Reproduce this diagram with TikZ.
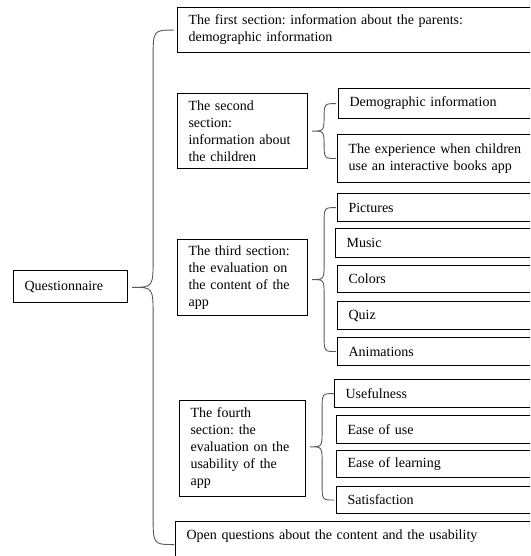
\documentclass[tikz,border=0pt]{standalone}
\usepackage{fontspec}
\setmainfont{Liberation Serif}
\usepackage{tikz}
\usetikzlibrary{calc}
\frenchspacing

\begin{document}
\begin{tikzpicture}[
  x=1pt, y=-1pt,
  box/.style={draw, line width=1.1pt, anchor=north west, align=left,
    inner xsep=11pt, inner ysep=0pt, font=\fontsize{14}{17}\selectfont},
  section/.style={box, text width=#1},
  leaf/.style={box, text width=250pt},
  brace/.style={draw=black!65, line width=0.9pt}
]
\useasboundingbox (0,0) rectangle (530,556);
\clip (0,0) rectangle (530,556);

\node[section=92pt, minimum height=32pt] (quest) at (13,270) {Questionnaire};

% sections
\node[section=400pt, minimum height=45pt] (sec1) at (177,7)
  {The first section: information about the parents:\\ demographic information};
\node[section=108pt, minimum height=75pt] (sec2) at (177,93)
  {The second\\ section:\\ information about\\ the children};
\node[section=108pt, minimum height=76pt] (sec3) at (177,239)
  {The third section:\\ the evaluation on\\ the content of the\\ app};
\node[section=104pt, minimum height=96pt] (sec4) at (179,400)
  {The fourth\\ section: the\\ evaluation on the\\ usability of the\\ app};
\node[section=400pt, text height=10pt, text depth=20pt, inner ysep=8pt] (open) at (175,521)
  {Open questions about the content and the usability};

% second section
\node[leaf, minimum height=30pt] (demo) at (338,88) {Demographic information};
\node[leaf, minimum height=48pt] (exper) at (337,134)
  {The experience when children\\ use an interactive books app};

% third section
\node[leaf, minimum height=28pt] (pict) at (337,193) {Pictures};
\node[leaf, minimum height=29pt] (music) at (335,228) {Music};
\node[leaf, minimum height=27pt] (colors) at (337,265) {Colors};
\node[leaf, minimum height=28pt] (quiz) at (337,301) {Quiz};
\node[leaf, minimum height=28pt] (anim) at (337,337) {Animations};

% fourth section
\node[leaf, minimum height=28pt] (useful) at (334,379) {Usefulness};
\node[leaf, minimum height=28pt] (easeuse) at (336,415) {Ease of use};
\node[leaf, minimum height=27pt] (easelearn) at (336,450) {Ease of learning};
\node[leaf, minimum height=27pt] (satisf) at (336,486) {Satisfaction};

% braces: parent / first child / last child / radius
\foreach \from/\up/\dn/\rad in {quest/sec1/open/21, sec2/demo/exper/12,
    sec3/pict/anim/12, sec4/useful/satisf/12}{
  \draw[brace] let \p1=(\from.east), \p2=(\up.west), \p3=(\dn.west),
      \n1={\x1+4pt}, \n2={\x1+4pt+\rad*1pt}, \n3={\x1+4pt+2*\rad*1pt},
      \n4={(\y2+\y3)/2}, \n5={1.4*\rad*1pt} in
    (\n3,\y2) .. controls (\n2,\y2) .. (\n2,\y2-\n5) -- (\n2,\n4+\n5)
    .. controls (\n2,\n4) .. (\n1,\n4) .. controls (\n2,\n4) .. (\n2,\n4-\n5)
    -- (\n2,\y3+\n5) .. controls (\n2,\y3) .. (\n3,\y3);
}
\end{tikzpicture}
\end{document}
